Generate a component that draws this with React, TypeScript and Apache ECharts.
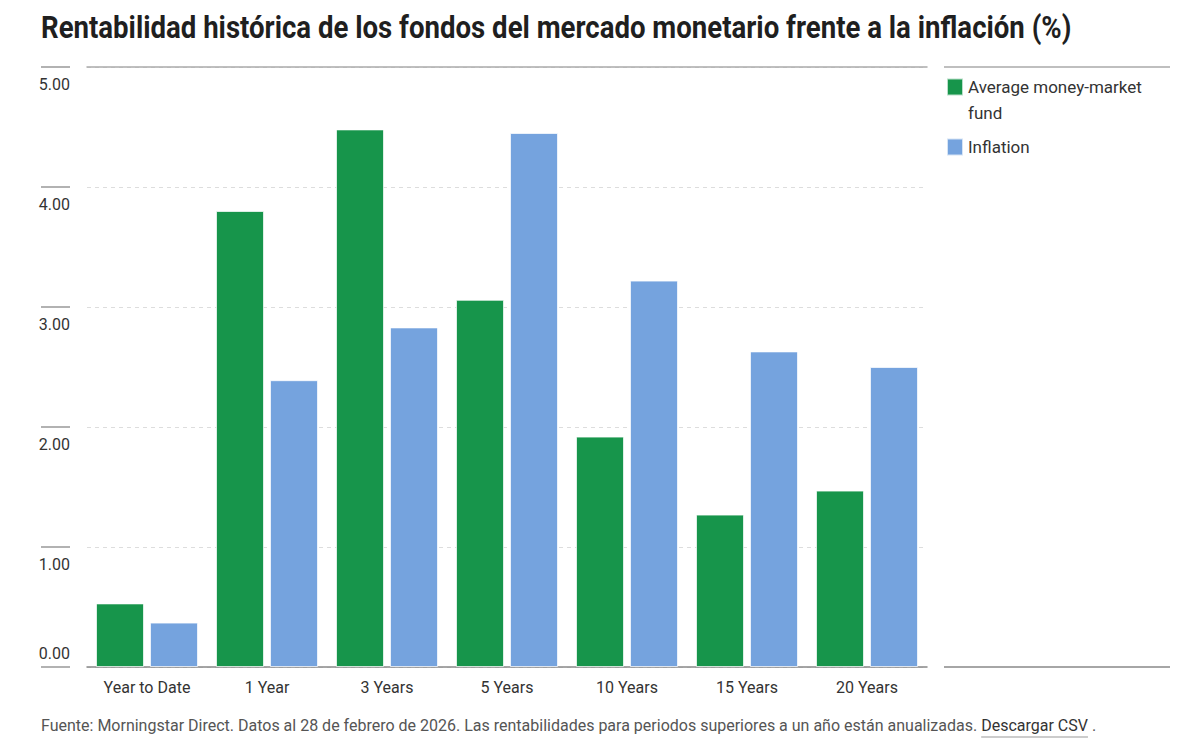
import React, { useEffect, useRef } from "react";
import * as echarts from "echarts";

const categories = ["Year to Date", "1 Year", "3 Years", "5 Years", "10 Years", "15 Years", "20 Years"];
const moneyMarket = [0.53, 3.8, 4.48, 3.06, 1.92, 1.27, 1.47];
const inflation = [0.37, 2.39, 2.83, 4.45, 3.22, 2.63, 2.5];
const seriesNames = ["Average money-market fund", "Inflation"];
const legendLabels: Record<string, string> = {
  "Average money-market fund": "\nAverage money-market\nfund",
  Inflation: "Inflation",
};
const yMin = 0;
const yMax = 5;
const yInterval = 1;
const yTickValues = [0, 1, 2, 3, 4, 5];

const titleText = "Rentabilidad histórica de los fondos del mercado monetario frente a la inflación (%)";
const footerText =
  "Fuente: Morningstar Direct. Datos al 28 de febrero de 2026. Las rentabilidades para periodos superiores a un año están anualizadas. ";
const footerLink = "Descargar CSV";
const footerEnd = " .";

const FONT = "Roboto, 'Noto Sans', sans-serif";
const GRID_TOP = 67;
const GRID_BOTTOM = 77;
const HEIGHT = 744;

function measure(text: string, font: string): number {
  const c = document.createElement("canvas").getContext("2d");
  if (!c) return text.length * 8;
  c.font = font;
  return c.measureText(text).width;
}

export default function App() {
  const ref = useRef<HTMLDivElement>(null);
  useEffect(() => {
    document.body.style.margin = "0";
    if (!ref.current) return;
    const chart = echarts.init(ref.current, undefined, { renderer: "svg" });

    const titleW = measure(titleText, `bold 31px Roboto`);
    const titleScale = 1031 / titleW;
    const fW = measure(footerText, `16px Roboto`);
    const lW = measure(footerLink, `16px Roboto`);
    const footX = 41;
    const linkX = footX + fW;

    const yBase = {
      type: "value" as const,
      min: yMin,
      max: yMax,
      interval: yInterval,
      position: "left" as const,
    };

    const plotH = HEIGHT - GRID_TOP - GRID_BOTTOM;
    const tickLines = yTickValues.map((v) => {
      const py = GRID_TOP + ((yMax - v) / (yMax - yMin)) * plotH;
      return {
        type: "rect",
        z: 100,
        shape: { x: 41, y: py - 0.75, width: 29, height: 1.5 },
        style: { fill: "#999" },
      };
    });

    chart.setOption({
      animation: false,
      grid: { left: 87, right: 273, top: GRID_TOP, bottom: GRID_BOTTOM, containLabel: false },
      legend: {
        orient: "vertical",
        left: 946,
        top: 48,
        padding: 0,
        itemWidth: 16,
        itemHeight: 17,
        itemGap: 8,
        icon: "rect",
        selectedMode: false,
        formatter: (name: string) => legendLabels[name] ?? name,
        textStyle: { fontFamily: FONT, fontSize: 17, color: "#333", lineHeight: 26 },
        data: seriesNames,
      },
      xAxis: [
        {
          type: "category",
          data: categories,
          position: "bottom",
          axisLine: { show: true, onZero: false, lineStyle: { color: "#888", width: 1.5 } },
          axisTick: { show: false },
          axisLabel: { fontFamily: FONT, fontSize: 16, color: "#333", margin: 12 },
        },
        {
          type: "category",
          data: categories,
          position: "top",
          axisLine: { show: true, onZero: false, lineStyle: { color: "#aaa", width: 1.5 } },
          axisTick: { show: false },
          axisLabel: { show: false },
        },
      ],
      yAxis: [
        {
          ...yBase,
          axisLine: { show: false },
          axisTick: { show: false },
          axisLabel: { show: false },
          splitLine: { show: true, lineStyle: { color: "#ddd", type: [4, 4], width: 1 } },
        },
        {
          ...yBase,
          offset: 17,
          axisLine: { show: false },
          axisTick: { show: false },
          splitLine: { show: false },
          axisLabel: {
            fontFamily: FONT,
            fontSize: 16,
            color: "#333",
            margin: 0,
            align: "right",
            verticalAlign: "top",
            padding: [9, 0, 0, 0],
            formatter: (v: number) => (v === 0 ? "" : v.toFixed(2)),
          },
        },
        {
          ...yBase,
          offset: 17,
          axisLine: { show: false },
          axisTick: { show: false },
          splitLine: { show: false },
          axisLabel: {
            fontFamily: FONT,
            fontSize: 16,
            color: "#333",
            margin: 0,
            align: "right",
            verticalAlign: "bottom",
            padding: [0, 0, 6, 0],
            formatter: (v: number) => (v === 0 ? v.toFixed(2) : ""),
          },
        },
      ],
      series: [
        {
          name: seriesNames[0],
          type: "bar",
          data: moneyMarket,
          barWidth: 48,
          barGap: "12.5%",
          itemStyle: { color: "#17954b", borderColor: "rgba(255,255,255,0.7)", borderWidth: 1 },
        },
        {
          name: seriesNames[1],
          type: "bar",
          data: inflation,
          barWidth: 48,
          barGap: "12.5%",
          itemStyle: { color: "#75a3de", borderColor: "rgba(255,255,255,0.7)", borderWidth: 1 },
        },
      ],
      graphic: [
        {
          type: "text",
          x: 41,
          y: 27,
          scaleX: titleScale,
          style: {
            text: titleText,
            fontFamily: "Roboto",
            fontWeight: "bold",
            fontSize: 31,
            fill: "#1f1f1f",
            verticalAlign: "middle",
          },
        },
        { type: "rect", shape: { x: 944, y: 66.25, width: 226, height: 1.5 }, style: { fill: "#aaa" } },
        { type: "rect", shape: { x: 944, y: 666.25, width: 226, height: 1.5 }, style: { fill: "#888" } },
        ...tickLines,
        {
          type: "text",
          x: footX,
          y: 725,
          style: { text: footerText, fontFamily: "Roboto", fontSize: 16, fill: "#555", verticalAlign: "middle" },
        },
        {
          type: "text",
          x: linkX,
          y: 725,
          style: { text: footerLink, fontFamily: "Roboto", fontSize: 16, fill: "#333", verticalAlign: "middle" },
        },
        { type: "rect", shape: { x: linkX, y: 736.25, width: lW, height: 1.5 }, style: { fill: "#bbb" } },
        {
          type: "text",
          x: linkX + lW,
          y: 725,
          style: { text: footerEnd, fontFamily: "Roboto", fontSize: 16, fill: "#555", verticalAlign: "middle" },
        },
      ],
    });

    return () => chart.dispose();
  }, []);
  return <div ref={ref} style={{ width: 1200, height: 744 }} />;
}
